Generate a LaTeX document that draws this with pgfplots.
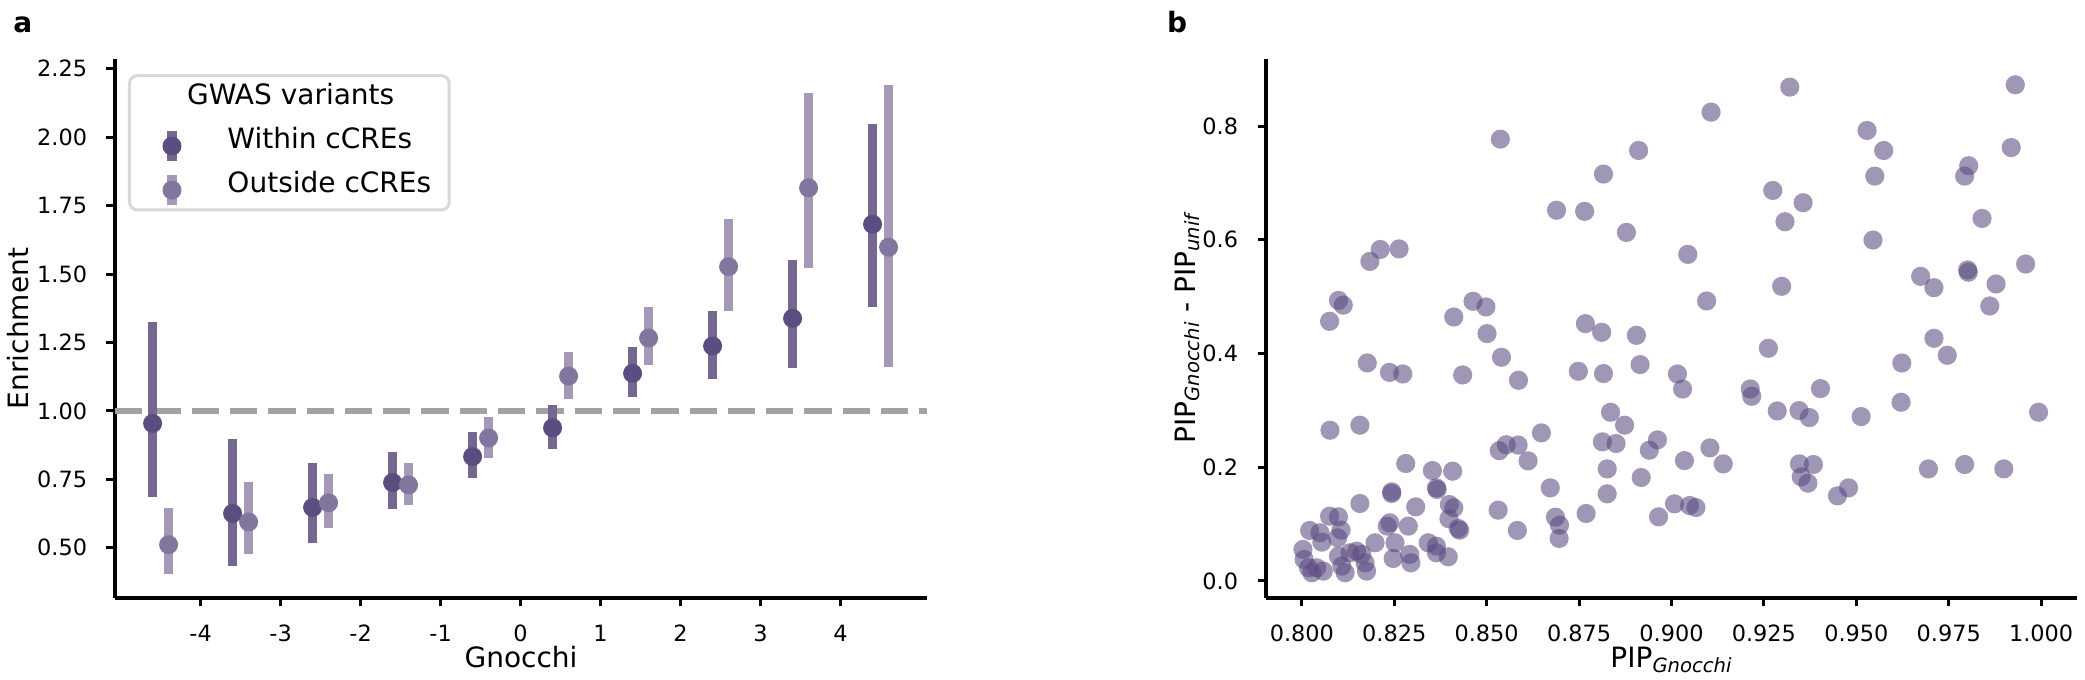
\documentclass[border=0pt]{standalone}
\usepackage{pgfplots}
\pgfplotsset{compat=1.18}
\usepackage{pgfplotstable}
\usepackage{fontspec}
\setmainfont{DejaVu Sans}
\definecolor{wpt}{RGB}{90,78,128}
\definecolor{wbar}{RGB}{116,104,145}
\definecolor{opt}{RGB}{130,118,158}
\definecolor{obar}{RGB}{164,154,183}
\definecolor{scat}{RGB}{91,74,129}
\definecolor{refgray}{RGB}{162,162,162}
\definecolor{legframe}{RGB}{216,216,216}

% within cCREs: x, enrichment, error plus, error minus
\pgfplotstableread{
x y ep em
-4.6 0.954 0.372 0.268
-3.6 0.625 0.271 0.193
-2.6 0.647 0.162 0.130
-1.6 0.738 0.111 0.095
-0.6 0.833 0.088 0.079
0.4 0.938 0.082 0.076
1.4 1.137 0.095 0.088
2.4 1.237 0.127 0.119
3.4 1.338 0.212 0.183
4.4 1.682 0.368 0.302
}\within

% outside cCREs
\pgfplotstableread{
x y ep em
-4.4 0.511 0.134 0.107
-3.4 0.594 0.145 0.117
-2.4 0.664 0.104 0.092
-1.4 0.729 0.082 0.073
-0.4 0.901 0.078 0.074
0.6 1.127 0.087 0.082
1.6 1.266 0.112 0.099
2.6 1.527 0.175 0.161
3.6 1.815 0.347 0.292
4.6 1.598 0.593 0.437
}\outside

\pgfplotstableread{
x y
0.8537 0.777
0.8816 0.7156
0.8689 0.652
0.8765 0.650
0.8878 0.613
0.8212 0.583
0.8263 0.584
0.8184 0.562
0.8099 0.4935
0.8112 0.485
0.8075 0.4566
0.8411 0.4642
0.8463 0.4919
0.8498 0.4819
0.8501 0.4350
0.8767 0.4525
0.8811 0.4373
0.8540 0.3934
0.8177 0.3834
0.8237 0.3668
0.8273 0.364
0.8435 0.3623
0.8586 0.3529
0.8748 0.3687
0.8816 0.3647
0.9320 0.8685
0.9107 0.8245
0.9930 0.8726
0.8911 0.7571
0.9529 0.7923
0.9574 0.7571
0.9550 0.7120
0.9919 0.7622
0.9804 0.7303
0.9793 0.7120
0.9274 0.6868
0.9356 0.6652
0.9307 0.6318
0.9840 0.6376
0.9545 0.5996
0.9044 0.5744
0.9801 0.547
0.9803 0.543
0.9958 0.5574
0.9674 0.5357
0.9710 0.5158
0.9878 0.5223
0.9861 0.4836
0.9298 0.5182
0.9095 0.4924
0.8905 0.4320
0.8915 0.3805
0.9262 0.4092
0.9016 0.3640
0.9623 0.3833
0.9710 0.4268
0.9746 0.3969
0.9030 0.3375
0.9213 0.3377
0.9217 0.3248
0.9403 0.3383
0.8873 0.2739
0.8962 0.2481
0.8940 0.2299
0.9035 0.2117
0.9104 0.2340
0.9140 0.2059
0.8918 0.1819
0.9286 0.2990
0.9345 0.2996
0.9373 0.2873
0.9513 0.2891
0.9621 0.3143
0.9993 0.2967
0.9346 0.2059
0.9384 0.2048
0.9351 0.1831
0.9369 0.1720
0.9449 0.1497
0.9479 0.1637
0.9695 0.1971
0.9793 0.2048
0.9899 0.1971
0.9008 0.1356
0.9049 0.1327
0.9066 0.1292
0.8965 0.1128
0.8076 0.2651
0.8157 0.2739
0.8648 0.2604
0.8835 0.2967
0.8534 0.2291
0.8553 0.2396
0.8585 0.2390
0.8612 0.2112
0.8813 0.2446
0.8850 0.2417
0.8826 0.1971
0.8826 0.1532
0.8672 0.1637
0.8769 0.1186
0.8531 0.1245
0.8583 0.0888
0.8686 0.1122
0.8697 0.0981
0.8696 0.0747
0.8281 0.2065
0.8353 0.1942
0.8408 0.1930
0.8243 0.1567
0.8243 0.1538
0.8364 0.1637
0.8366 0.1608
0.8157 0.1362
0.8308 0.1303
0.8075 0.1139
0.8099 0.1128
0.8399 0.1344
0.8411 0.1286
0.8398 0.1093
0.8423 0.0923
0.8427 0.0893
0.8021 0.0888
0.8049 0.0847
0.8106 0.0893
0.8054 0.0682
0.8097 0.0759
0.8003 0.0554
0.8006 0.0378
0.8018 0.0231
0.8040 0.0231
0.8058 0.0173
0.8027 0.0144
0.8099 0.0436
0.8108 0.0261
0.8117 0.0144
0.8130 0.0495
0.8148 0.0524
0.8162 0.0466
0.8171 0.0319
0.8175 0.0173
0.8198 0.0671
0.8231 0.0964
0.8238 0.1022
0.8252 0.0671
0.8247 0.0395
0.8292 0.0466
0.8295 0.0319
0.8288 0.0964
0.8342 0.0671
0.8364 0.0612
0.8364 0.0495
0.8396 0.0425
}\pipdata

\begin{document}
\begin{tikzpicture}
\useasboundingbox (0,0) rectangle (1042.5pt,340pt);
\pgfplotsset{
  common/.style={
    scale only axis, anchor=south west,
    axis x line*=bottom, axis y line*=left,
    axis line style={line width=1.7pt, black},
    tick align=outside, major tick length=4.25pt,
    every tick/.style={line width=1.5pt, black},
    tick label style={font=\fontsize{11.2}{13.4}\selectfont},
    /pgf/number format/assume math mode=true,
    xticklabel style={anchor=base, yshift=-17.5pt},
    yticklabel style={anchor=east, inner sep=0pt, xshift=-9.5pt},
    every axis x label/.style={at={([yshift=-35pt]rel axis cs:0.5,0)}, anchor=base,
      font=\fontsize{14}{16.8}\selectfont},
    every axis y label/.style={at={([xshift=-43.3pt]rel axis cs:0,0.5)}, rotate=90, anchor=base,
      font=\fontsize{14}{16.8}\selectfont},
  }
}
\node[anchor=base west, inner sep=0pt, font=\fontsize{14}{16}\selectfont\bfseries] at (6.5pt,323.5pt) {a};
\node[anchor=base west, inner sep=0pt, font=\fontsize{14}{16}\selectfont\bfseries] at (583.3pt,323.5pt) {b};

\begin{axis}[common, at={(57.5pt,41pt)}, width=406pt, height=269.5pt,
  xmin=-5.07, xmax=5.08, ymin=0.316, ymax=2.286,
  xtick={-4,-3,-2,-1,0,1,2,3,4}, xticklabels={-4,-3,-2,-1,0,1,2,3,4},
  ytick={0.5,0.75,1,1.25,1.5,1.75,2,2.25},
  yticklabel style={/pgf/number format/.cd, fixed, fixed zerofill, precision=2},
  xlabel={Gnocchi}, ylabel={Enrichment},
  legend cell align=left,
  legend style={at={(rel axis cs:0.016,0.972)}, anchor=north west, draw=legframe, line width=1.5pt,
    rounded corners=4pt, fill=white, inner xsep=9pt, inner ysep=2.2pt,
    font=\fontsize{14}{16.8}\selectfont, row sep=0.5pt, column sep=15.5pt, nodes={inner sep=0pt}},
]
\addplot[forget plot, refgray, line width=2.65pt, dash pattern=on 13.65pt off 5.5pt] coordinates {(-5.07,1) (5.08,1)};
\addlegendimage{legend image code/.code={\path (0pt,-13pt) (0pt,7pt);}}
\addlegendentry{\hspace*{-20.2pt}GWAS variants}
\addplot[wpt, only marks, mark=*, mark size=4.75pt, mark options={fill=wpt, draw opacity=0},
  legend image code/.code={
    \path (0pt,-13pt) (23pt,7pt);
    \draw[overlay, line width=4.65pt, wbar] (11.5pt,-10.6pt) -- (11.5pt,4pt);
    \fill[overlay, wpt, draw=none] (11.5pt,-3.3pt) circle (4.75pt);},
  error bars/.cd, y dir=both, y explicit, error mark=none,
  error bar style={line width=4.65pt, wbar, solid}]
  table[x=x, y=y, y error plus=ep, y error minus=em]{\within};
\addlegendentry{Within cCREs}
\addplot[opt, only marks, mark=*, mark size=4.75pt, mark options={fill=opt, draw opacity=0},
  legend image code/.code={
    \path (0pt,-10.3pt) (23pt,7pt);
    \draw[overlay, line width=4.65pt, obar] (11.5pt,-10.6pt) -- (11.5pt,4pt);
    \fill[overlay, opt, draw=none] (11.5pt,-3.3pt) circle (4.75pt);},
  error bars/.cd, y dir=both, y explicit, error mark=none,
  error bar style={line width=4.65pt, obar, solid}]
  table[x=x, y=y, y error plus=ep, y error minus=em]{\outside};
\addlegendentry{Outside cCREs}
\end{axis}

\begin{axis}[common, at={(633pt,41pt)}, width=405.5pt, height=269.5pt,
  xmin=0.7903, xmax=1.0097, ymin=-0.030, ymax=0.918,
  xtick={0.8,0.825,0.85,0.875,0.9,0.925,0.95,0.975,1.0},
  xticklabel style={/pgf/number format/.cd, fixed, fixed zerofill, precision=3},
  ytick={0,0.2,0.4,0.6,0.8},
  yticklabel style={/pgf/number format/.cd, fixed, fixed zerofill, precision=1},
  xlabel={PIP\textsubscript{\itshape Gnocchi}},
  ylabel={PIP\textsubscript{\itshape Gnocchi} - PIP\textsubscript{\itshape unif}},
  every axis y label/.append style={at={([xshift=-35.5pt]rel axis cs:0,0.5)}},
]
\addplot[scat, only marks, mark=*, mark size=4.8pt, mark options={fill=scat, fill opacity=0.58, draw opacity=0}]
  table[x=x, y=y]{\pipdata};
\end{axis}
\end{tikzpicture}
\end{document}
